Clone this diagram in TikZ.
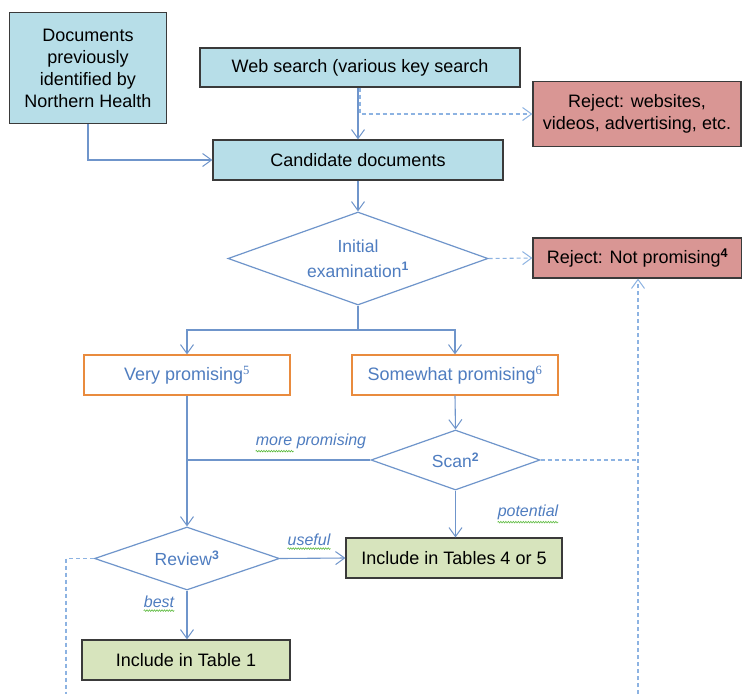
\documentclass[tikz,border=0pt]{standalone}
\usepackage{fontspec}
\setmainfont{Liberation Sans}
\newfontfamily\serifsup{Liberation Serif}
\usetikzlibrary{shapes.geometric,arrows.meta,decorations.pathmorphing}
\definecolor{boxblue}{HTML}{B7DEE8}
\definecolor{rejred}{HTML}{D99694}
\definecolor{incgreen}{HTML}{D7E4BD}
\definecolor{orangeb}{HTML}{E98B3E}
\definecolor{linec}{HTML}{6F95CB}
\definecolor{dashc}{HTML}{8DB3E2}
\definecolor{textblue}{HTML}{4F7DC0}
\definecolor{framec}{HTML}{3A3A3A}
\definecolor{squig}{HTML}{5DBB3F}
\begin{document}
\begin{tikzpicture}[x=1pt,y=-1pt,
  boxbase/.style={draw=framec, line width=1.2pt, align=center, inner sep=0pt,
    font=\fontsize{18}{22}\selectfont, text=black},
  bluebox/.style={boxbase, fill=boxblue},
  redbox/.style={boxbase, fill=rejred},
  greenbox/.style={boxbase, fill=incgreen},
  orbox/.style={draw=orangeb, line width=1.2pt, fill=white, align=center, inner sep=0pt,
    font=\fontsize{18}{22}\selectfont, text=textblue, minimum width=206pt, minimum height=40pt},
  decide/.style={diamond, draw=linec, line width=1.2pt, fill=white, align=center, inner sep=0pt,
    font=\fontsize{17.5}{25}\selectfont, text=textblue},
  conn/.style={draw=linec, line width=1.1pt},
  arr/.style={conn, -{Straight Barb[length=9pt,width=13pt,line width=1pt]}},
  dconn/.style={draw=dashc, line width=1.1pt, dash pattern=on 4pt off 3pt},
  darr/.style={dconn, -{Straight Barb[length=9pt,width=13pt,line width=1pt]}},
  lbl/.style={font=\fontsize{16}{18}\selectfont\itshape, text=textblue, inner sep=0pt},
  squiggle/.style={draw=squig, line width=0.6pt, decorate,
    decoration={snake, amplitude=0.8pt, segment length=2.5pt}}
]
\useasboundingbox (0,0) rectangle (742,694);
\fill[white] (0,0) rectangle (742,694);

% boxes
\node[bluebox, minimum width=157pt, minimum height=111pt] (docs) at (88,68)
  {Documents\\previously\\identified by\\Northern Health};
\node[bluebox, minimum width=320pt, minimum height=39pt] (web) at (360,67.5)
  {Web search (various key search};
\node[redbox, minimum width=208pt, minimum height=65pt] (rejweb) at (637,114)
  {Reject: websites,\\videos, advertising, etc.};
\node[bluebox, minimum width=290pt, minimum height=40pt] (cand) at (358,160)
  {Candidate documents};
\node[decide, aspect=2.8, minimum width=260pt, minimum height=93pt] (init) at (358,258.5)
  {Initial\\examination\textsuperscript{\bfseries 1}};
\node[redbox, minimum width=209pt, minimum height=40pt] (rejnp) at (637.5,258)
  {Reject: Not promising\textsuperscript{\bfseries 4}};
\node[orbox] (very) at (187,375) {Very promising\textsuperscript{\serifsup 5}};
\node[orbox] (some) at (455,375) {Somewhat promising\textsuperscript{\serifsup 6}};
\node[decide, aspect=2.82, minimum width=169pt, minimum height=60pt] (scan) at (455.5,460)
  {Scan\textsuperscript{\bfseries 2}};
\node[decide, aspect=2.94, minimum width=185pt, minimum height=63pt] (review) at (187,558.5)
  {Review\textsuperscript{\bfseries 3}};
\node[greenbox, minimum width=216pt, minimum height=40pt] (inc45) at (454,558)
  {Include in Tables 4 or 5};
\node[greenbox, minimum width=208pt, minimum height=40pt] (inc1) at (186,660)
  {Include in Table 1};

% free ends
\coordinate (br) at (358,330);
\coordinate (offR) at (638,694);
\coordinate (offL) at (66,694);

% connectors
\draw[arr] (cand.north |- web.south) -- (cand.north);
\draw[darr] ([xshift=2pt]cand.north |- web.south) |- (rejweb.west);
\draw[arr] (docs.south) |- (cand.west);
\draw[arr] (cand.south) -- (init.north);
\draw[darr] (init.east) -- (rejnp.west);
\draw[conn] (init.south) -- (br);
\draw[arr] (br) -| (very.north);
\draw[arr] (br) -| (some.north);
\draw[arr] (some.south) -- (scan.north);
\draw[arr] (very.south) -- (review.north);
\draw[conn] (scan.west) -- (scan.west -| very.south);
\draw[arr] (review.east) -- (inc45.west);
\draw[arr] (scan.south) -- (scan.south |- inc45.north);
\draw[arr] (review.south) -- (review.south |- inc1.north);
\draw[dconn] (scan.east) -- (scan.east -| offR);
\draw[darr] (offR) -- (offR |- rejnp.south);
\draw[dconn] (review.west) -| (offL);

% labels
\node[lbl] (lmore) at (311,441) {more promising};
\node[lbl] (luse) at (309,540) {useful};
\node[lbl] (lbest) at (159,602) {best};
\node[lbl] (lpot) at (528,512) {potential};
\draw[squiggle] ([yshift=-2.5pt]lmore.south west) -- ++(38,0);
\draw[squiggle] ([yshift=-2.5pt]luse.south west) -- ([yshift=-2.5pt]luse.south east);
\draw[squiggle] ([yshift=-2.5pt]lbest.south west) -- ([yshift=-2.5pt]lbest.south east);
\draw[squiggle] ([yshift=-2.5pt]lpot.south west) -- ([yshift=-2.5pt]lpot.south east);
\end{tikzpicture}
\end{document}
